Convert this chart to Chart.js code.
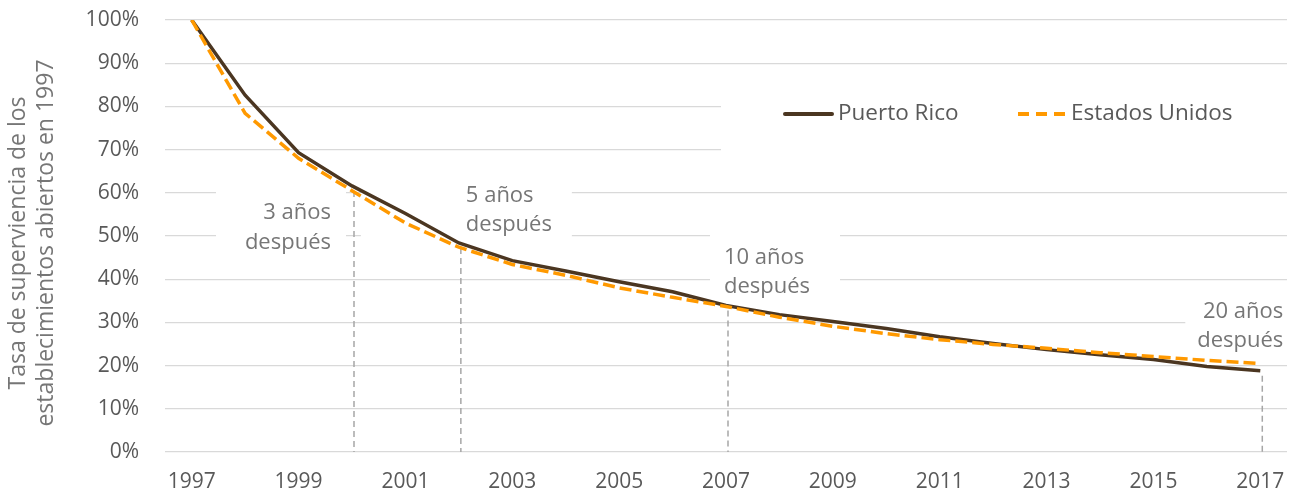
<!DOCTYPE html>
<html>
<head>
<meta charset="utf-8">
<script src="https://cdn.jsdelivr.net/npm/chart.js@4.4.1/dist/chart.umd.min.js"></script>
<style>
    html, body { margin: 0; padding: 0; background: #fff; }
    #chart { display: block; }
</style>
</head>
<body>
<canvas id="chart" width="1292" height="494"></canvas>
<script>
var years = ['1997','1998','1999','2000','2001','2002','2003','2004','2005','2006','2007',
             '2008','2009','2010','2011','2012','2013','2014','2015','2016','2017'];
var puertoRico = [100, 82.6, 69.3, 61.6, 55.2, 48.4, 44.3, 41.9, 39.4, 37.1, 33.9,
                  31.8, 30.2, 28.6, 26.7, 25.1, 23.7, 22.5, 21.4, 19.8, 18.8];
var estadosUnidos = [100, 78.4, 68.0, 60.5, 53.0, 47.4, 43.4, 40.9, 38.0, 35.8, 33.7,
                     31.2, 29.1, 27.4, 26.0, 24.9, 24.0, 23.0, 22.1, 21.2, 20.5];
var yTicks = [0, 10, 20, 30, 40, 50, 60, 70, 80, 90, 100];
var notes = [
    { idx: 3,  lines: ['3 años', 'después'] },
    { idx: 5,  lines: ['5 años', 'después'] },
    { idx: 10, lines: ['10 años', 'después'] },
    { idx: 20, lines: ['20 años', 'después'] }
];
var axisTitle = ['Tasa de superviencia de los', 'establecimientos abiertos en 1997'];

var FONT = '"Open Sans", "Noto Sans", sans-serif';
var TEXT = '#595959';
var NOTE = '#767676';

// where each note's text sits, relative to its point (layout only)
var noteLayout = [
    { align: 'right', dx: -21, y: [213, 243], box: [-136, -6, 182, 258] },
    { align: 'left',  dx: 7,   y: [196, 225], box: [-98, 113, 182, 241] },
    { align: 'left',  dx: -2,  y: [258, 287], box: [-16, 114, 228, 300] },
    { align: 'right', dx: 23,  y: [312, 341], box: [-75, 40, 295, 352] }
];

var notesPlugin = {
    id: 'notas',
    beforeDatasetsDraw: function(chart){
        var ctx = chart.ctx;
        var x = chart.scales.x, y = chart.scales.y;
        var bottom = chart.chartArea.bottom;
        ctx.save();

        // white boxes over the gridlines
        ctx.fillStyle = '#fff';
        notes.forEach(function(n, k){
            var px = x.getPixelForValue(n.idx);
            var b = noteLayout[k].box;
            ctx.fillRect(px + b[0], b[2], b[1] - b[0], b[3] - b[2]);
        });
        ctx.fillRect(721, 88, 1292 - 721, 72);

        // dashed drop lines
        ctx.strokeStyle = '#A6A6A6';
        ctx.lineWidth = 1.5;
        ctx.setLineDash([6, 4]);
        notes.forEach(function(n){
            var px = x.getPixelForValue(n.idx);
            var py = y.getPixelForValue(puertoRico[n.idx]);
            ctx.beginPath();
            ctx.moveTo(px + 2, py + 5);
            ctx.lineTo(px + 2, bottom);
            ctx.stroke();
        });
        ctx.setLineDash([]);

        // note texts
        ctx.fillStyle = NOTE;
        ctx.font = '22px ' + FONT;
        ctx.textBaseline = 'middle';
        notes.forEach(function(n, k){
            var px = x.getPixelForValue(n.idx);
            var L = noteLayout[k];
            ctx.textAlign = L.align;
            ctx.fillText(n.lines[0], px + L.dx, L.y[0]);
            ctx.fillText(n.lines[1], px + L.dx, L.y[1]);
        });

        // legend
        var legendX = [785, 1018];
        ctx.font = '22.5px ' + FONT;
        chart.data.datasets.slice().sort(function(a, b){ return b.order - a.order; }).forEach(function(ds, k){
            var lx = legendX[k], ly = 114;
            ctx.strokeStyle = ds.borderColor;
            ctx.lineWidth = 4;
            ctx.lineCap = ds.borderDash.length ? 'butt' : 'round';
            ctx.setLineDash(ds.borderDash.length ? [11, 7] : []);
            ctx.beginPath();
            ctx.moveTo(lx, ly);
            ctx.lineTo(lx + 47, ly);
            ctx.stroke();
            ctx.setLineDash([]);
            ctx.fillStyle = TEXT;
            ctx.textAlign = 'left';
            ctx.fillText(ds.label, lx + 53, ly);
        });

        // y axis title
        ctx.fillStyle = NOTE;
        ctx.font = '23px ' + FONT;
        ctx.textAlign = 'center';
        var cy = 243;
        [18, 46].forEach(function(tx, k){
            ctx.save();
            ctx.translate(tx, cy);
            ctx.rotate(-Math.PI / 2);
            ctx.fillText(axisTitle[k], 0, 0);
            ctx.restore();
        });

        ctx.restore();
    }
};

new Chart(document.getElementById('chart'), {
    type: 'line',
    data: {
        labels: years,
        datasets: [{
            label: 'Puerto Rico',
            data: puertoRico,
            borderColor: '#4B3621',
            borderWidth: 3.5,
            borderDash: [],
            pointRadius: 0,
            tension: 0,
            order: 2
        }, {
            label: 'Estados Unidos',
            data: estadosUnidos,
            borderColor: '#FF9900',
            borderWidth: 3.5,
            borderDash: [12, 5],
            pointRadius: 0,
            tension: 0,
            order: 1
        }]
    },
    options: {
        responsive: false,
        devicePixelRatio: 1,
        animation: false,
        layout: { padding: { left: 0, right: 5, top: 20, bottom: 0 } },
        plugins: {
            legend: { display: false },
            tooltip: { enabled: false }
        },
        scales: {
            x: {
                type: 'category',
                offset: true,
                grid: { display: false },
                border: { display: false },
                ticks: {
                    autoSkip: false,
                    maxRotation: 0,
                    padding: 9,
                    color: TEXT,
                    font: { family: FONT, size: 21 },
                    callback: function(v, i){ return i % 2 === 0 ? years[i] : ''; }
                },
                afterFit: function(s){ s.height = 42; s.paddingLeft = 0; s.paddingRight = 0; }
            },
            y: {
                min: 0,
                max: 100,
                afterBuildTicks: function(s){
                    s.ticks = yTicks.map(function(v){ return { value: v }; });
                },
                grid: { color: '#D9D9D9', lineWidth: 1.3, drawTicks: false },
                border: { display: false },
                ticks: {
                    padding: 26,
                    color: TEXT,
                    font: { family: FONT, size: 21 },
                    callback: function(v){ return v + '%'; }
                },
                afterFit: function(s){ s.width = 165; s.paddingTop = 0; s.paddingBottom = 0; }
            }
        }
    },
    plugins: [notesPlugin]
});
</script>
</body>
</html>
